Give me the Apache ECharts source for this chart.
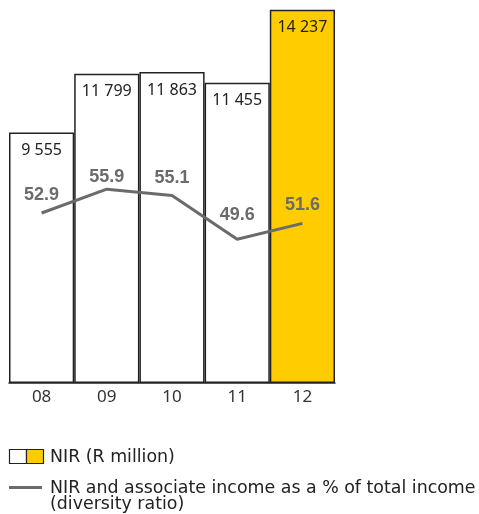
<!DOCTYPE html>
<html>
<head>
<meta charset="utf-8">
<script src="https://cdn.jsdelivr.net/npm/echarts@6/dist/echarts.min.js"></script>
<style>
  html, body { margin: 0; padding: 0; background: #fff; }
  #chart { width: 479px; height: 514px; }
</style>
</head>
<body>
<div id="chart"></div>
<script>
// Years, NIR (R million) and diversity ratio (%)
const years = ['08', '09', '10', '11', '12'];
const nir = [9555, 11799, 11863, 11455, 14237];
const diversity = [52.9, 55.9, 55.1, 49.6, 51.6];

const YELLOW = '#FFCC00';
const GREY = '#6b6b6b';
const FONT = '"Noto Sans", "DejaVu Sans", sans-serif';
const LEGEND_FONT = '17.4px "DejaVu Sans", sans-serif';

// gap (px) between each ratio point and its label
const ratioLabelGap = [8, 2, 8, 14, 8];

const fmtThousands = v => String(v).replace(/\B(?=(\d{3})+(?!\d))/g, ' ');

const chart = echarts.init(document.getElementById('chart'), null, { renderer: 'canvas' });

chart.setOption({
  animation: false,
  backgroundColor: '#fff',
  grid: { left: 9, right: 144, top: 9.7, bottom: 131, containLabel: false },
  xAxis: {
    type: 'category',
    data: years,
    axisLine: { lineStyle: { color: '#222', width: 1.5 } },
    axisTick: { show: false },
    axisLabel: { color: '#333', fontSize: 17, fontFamily: FONT, margin: 6 }
  },
  yAxis: [
    { type: 'value', min: 0, max: 14237, show: false, splitLine: { show: false } },
    { type: 'value', min: 31.5, max: 78.5, show: false, splitLine: { show: false } }
  ],
  series: [
    {
      name: 'NIR (R million)',
      type: 'bar',
      barCategoryGap: 0,
      data: nir.map((v, i) => ({
        value: v,
        itemStyle: { color: i === nir.length - 1 ? YELLOW : '#fff' }
      })),
      itemStyle: { borderColor: '#222', borderWidth: 1.5 },
      label: {
        show: true,
        position: 'insideTop',
        distance: 10,
        color: '#222',
        fontSize: 16,
        fontFamily: FONT,
        formatter: p => fmtThousands(p.value)
      },
      z: 1
    },
    {
      name: 'Diversity ratio',
      type: 'line',
      yAxisIndex: 1,
      data: diversity.map((v, i) => ({
        value: v,
        label: {
          show: true,
          position: 'top',
          distance: ratioLabelGap[i],
          color: GREY,
          fontSize: 18,
          fontWeight: 'bold',
          fontFamily: '"Liberation Sans", Arial, sans-serif',
          formatter: p => p.value.toFixed(1)
        }
      })),
      symbol: 'circle',
      symbolSize: 2,
      showSymbol: true,
      itemStyle: { color: 'rgba(0,0,0,0)', borderWidth: 0 },
      lineStyle: { color: GREY, width: 3 },
      labelLayout: { hideOverlap: false },
      z: 3
    }
  ],
  graphic: [
    { type: 'rect', shape: { x: 9.5, y: 449.5, width: 17, height: 14 }, style: { fill: '#fff', stroke: '#222', lineWidth: 1.2 } },
    { type: 'rect', shape: { x: 26.5, y: 449.5, width: 17, height: 14 }, style: { fill: YELLOW, stroke: '#222', lineWidth: 1.2 } },
    { type: 'text', x: 50, y: 457, style: { text: 'NIR (R million)', fill: '#222', font: LEGEND_FONT, verticalAlign: 'middle' } },
    { type: 'line', shape: { x1: 9, y1: 487.5, x2: 42, y2: 487.5 }, style: { stroke: GREY, lineWidth: 3 } },
    { type: 'text', x: 50, y: 488, style: { text: 'NIR and associate income as a % of total income', fill: '#222', font: LEGEND_FONT, verticalAlign: 'middle' } },
    { type: 'text', x: 50, y: 504, style: { text: '(diversity ratio)', fill: '#222', font: LEGEND_FONT, verticalAlign: 'middle' } }
  ]
});
</script>
</body>
</html>
